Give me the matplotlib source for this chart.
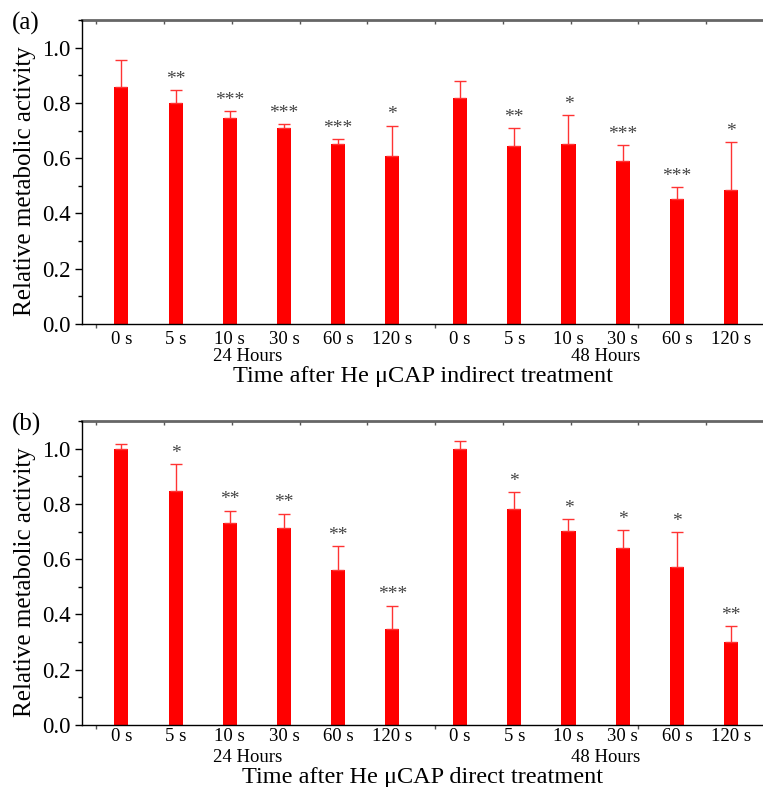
"""
Relative metabolic activity after He uCAP treatment, panels (a) indirect and (b) direct
Output: out.png
"""

import numpy as np
import matplotlib.pyplot as plt
from matplotlib.ticker import MultipleLocator, FixedLocator
import matplotlib.transforms as mtransforms

plt.rcParams["font.family"] = ["Liberation Serif", "DejaVu Serif"]

# data
times = ["0 s", "5 s", "10 s", "30 s", "60 s", "120 s"]
groups = ["24 Hours", "48 Hours"]

# panel (a) indirect treatment: 24 h then 48 h
a_mean = [0.857, 0.800, 0.745, 0.711, 0.652, 0.608,
          0.817, 0.643, 0.651, 0.588, 0.451, 0.485]
a_err = [0.097, 0.047, 0.025, 0.013, 0.018, 0.110,
         0.063, 0.067, 0.106, 0.060, 0.044, 0.172]
a_sig = ["", "**", "***", "***", "***", "*",
         "", "**", "*", "***", "***", "*"]

# panel (b) direct treatment
b_mean = [1.000, 0.846, 0.730, 0.712, 0.560, 0.348,
          1.000, 0.782, 0.702, 0.640, 0.572, 0.300]
b_err = [0.015, 0.097, 0.046, 0.053, 0.088, 0.084,
         0.027, 0.061, 0.044, 0.065, 0.125, 0.058]
b_sig = ["", "*", "**", "**", "**", "***",
         "", "*", "*", "*", "*", "**"]

xlabels = ["Time after He \u03bcCAP indirect treatment",
           "Time after He \u03bcCAP direct treatment"]

# bar positions: two groups of six, slightly wider gap between groups
pos = np.concatenate([np.arange(6), np.arange(6) + 6.25])
frame_ticks = -0.46 + 1.25 * np.arange(11)

fig = plt.figure(figsize=(7.63, 7.87), dpi=100)
ax_a = fig.add_axes([0.1075, 0.5883, 0.8925, 0.3863])
ax_b = fig.add_axes([0.1075, 0.0788, 0.8925, 0.3863])

panels = [
    (ax_a, a_mean, a_err, a_sig, xlabels[0], "(a)", 5),
    (ax_b, b_mean, b_err, b_sig, xlabels[1], "(b)", 2),
]

for ax, mean, err, sig, xlab, tag, pad in panels:
    mean = np.array(mean)
    err = np.array(err)

    ax.bar(pos, mean, width=0.26, color="#ff0000", zorder=2)
    ax.errorbar(pos, mean, yerr=[np.zeros_like(err), err], fmt="none",
                ecolor="#ff3333", elinewidth=1.0, capsize=4, capthick=1.0,
                zorder=3)

    # significance stars above the error bars
    for x, top, s in zip(pos, mean + err, sig):
        if s:
            ax.text(x, top + 0.008, s, ha="center", va="bottom",
                    fontsize=14, color="#444444")

    ax.set_xlim(-0.727, 11.84)
    ax.set_ylim(0, 1.1)

    # y axis
    ax.yaxis.set_major_locator(MultipleLocator(0.2))
    ax.yaxis.set_minor_locator(MultipleLocator(0.1))
    ax.yaxis.set_major_formatter(plt.FormatStrFormatter("%.1f"))
    ax.tick_params(axis="y", which="major", direction="out", length=5,
                   width=1, labelsize=16.5, pad=3)
    ax.tick_params(axis="y", which="minor", direction="out", length=3,
                   width=1)
    ax.set_ylabel("Relative metabolic activity", fontsize=18)
    ax.yaxis.set_label_coords(-0.068, 0.47)

    # x axis: category labels under bars, frame ticks separate
    ax.set_xticks(pos)
    ax.set_xticklabels(times * 2, fontsize=13.5)
    ax.tick_params(axis="x", which="major", length=0, pad=pad)
    ax.xaxis.set_minor_locator(FixedLocator(frame_ticks[[0, 5, 8]]))
    ax.tick_params(axis="x", which="minor", direction="out", length=3,
                   width=1, color="#555555")

    top = ax.secondary_xaxis("top")
    top.set_xticks(frame_ticks)
    top.set_xticklabels([])
    top.tick_params(direction="in", length=3, width=1, color="#555555")
    top.spines["top"].set_color("#666666")
    top.spines["top"].set_linewidth(2)

    ax.spines["top"].set_visible(False)
    ax.spines["right"].set_visible(False)
    ax.spines["left"].set_linewidth(1)
    ax.spines["bottom"].set_linewidth(1)

    # group labels under the time labels
    trans = mtransforms.blended_transform_factory(ax.transData, ax.transAxes)
    ax.text(2.33, -0.108, groups[0], transform=trans, ha="center",
            va="center", fontsize=13.5)
    ax.text(8.93, -0.108, groups[1], transform=trans, ha="center",
            va="center", fontsize=13.5)

    ax.text(0.5, -0.172, xlab, transform=ax.transAxes, ha="center",
            va="center", fontsize=17.5)

    # panel letter
    ax.text(-0.082, 0.99, tag, transform=ax.transAxes, ha="center",
            va="center", fontsize=18)

fig.savefig("out.png", dpi=100)
